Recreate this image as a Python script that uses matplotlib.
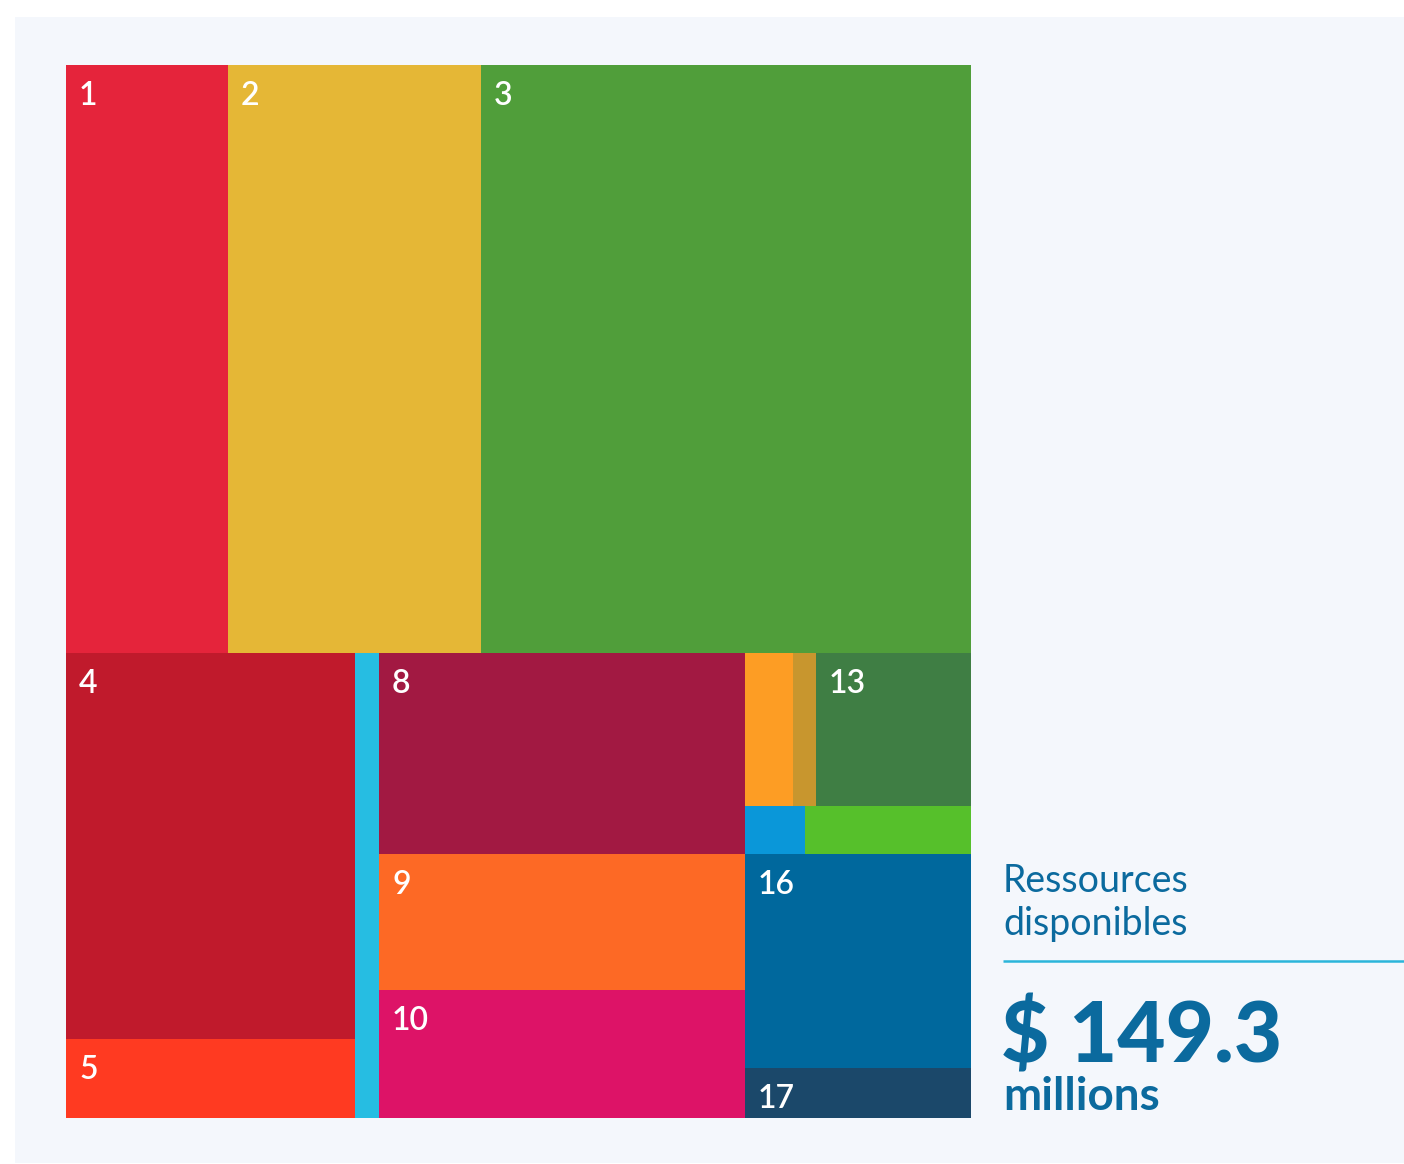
import matplotlib
matplotlib.use("Agg")
import matplotlib.pyplot as plt
from matplotlib.patches import Rectangle

# Funds per SDG goal, in millions
goals = [1, 2, 3, 4, 5, 6, 8, 9, 10, 11, 12, 13, 14, 15, 16, 17]
funds = [14.92, 23.31, 45.14, 17.48, 3.58, 1.75, 11.53, 7.80, 7.34,
         1.15, 0.55, 3.72, 0.45, 1.25, 7.58, 1.77]
colors = ["#E5243B", "#E5B736", "#509E3A", "#C01A2C", "#FF3A21", "#26BDE2",
          "#A21942", "#FD6925", "#DD1367", "#FD9D24", "#C8962E", "#3F7E44",
          "#0A97D9", "#56C02B", "#00689D", "#1B486A"]

title_lines = ["Ressources", "disponibles"]
unit = "millions"

# nesting of the slices: 'h' = side by side, 'v' = stacked
tree = ("v", [("h", [1, 2, 3]),
              ("h", [("v", [4, 5]), 6, ("v", [8, 9, 10]),
                     ("v", [("v", [("h", [11, 12, 13]), ("h", [14, 15])]), 16, 17])])])

value = dict(zip(goals, funds))
color = dict(zip(goals, colors))


def node_value(node):
    if isinstance(node, int):
        return value[node]
    return sum(node_value(k) for k in node[1])


def layout(node, x, y, w, h, out):
    if isinstance(node, int):
        out[node] = (x, y, w, h)
        return
    direction, kids = node
    tot = node_value(node)
    for k in kids:
        frac = node_value(k) / tot
        if direction == "h":
            layout(k, x, y, w * frac, h, out)
            x += w * frac
        else:
            layout(k, x, y, w, h * frac, out)
            y += h * frac


W, H = 1404, 1164
fig = plt.figure(figsize=(W / 100, H / 100), dpi=100)
fig.patch.set_facecolor("white")
ax = fig.add_axes([0, 0, 1, 1])
ax.set_xlim(0, W)
ax.set_ylim(H, 0)
ax.axis("off")

# light panel behind everything
ax.add_patch(Rectangle((15, 17), W - 15, 1146, facecolor="#F4F7FC", edgecolor="none"))

boxes = {}
layout(tree, 66, 65, 905, 1053, boxes)

for g, (x, y, w, h) in boxes.items():
    ax.add_patch(Rectangle((x, y), w, h, facecolor=color[g], edgecolor="none"))
    if w > 50 and h > 49:
        ax.text(x + 13, y + 16, str(g), color="white", fontsize=23,
                family="Lato", weight="semibold", va="top", ha="left")

blue = "#0B6A9E"
ax.text(1003, 892, title_lines[0], color=blue, fontsize=27, family="Lato", va="baseline")
ax.text(1003, 935, title_lines[1], color=blue, fontsize=27, family="Lato", va="baseline")
ax.plot([1003, W], [961, 961], color="#2BB5DA", lw=1.8, solid_capstyle="butt")

total = sum(funds)
ax.text(1001, 1063, f"$ {total:.1f}", color=blue, fontsize=60, family="Lato",
        weight="black", va="baseline")
ax.text(1003, 1110, unit, color=blue, fontsize=33, family="Lato",
        weight="bold", va="baseline")

fig.savefig("out.png", dpi=100, facecolor=fig.get_facecolor())
